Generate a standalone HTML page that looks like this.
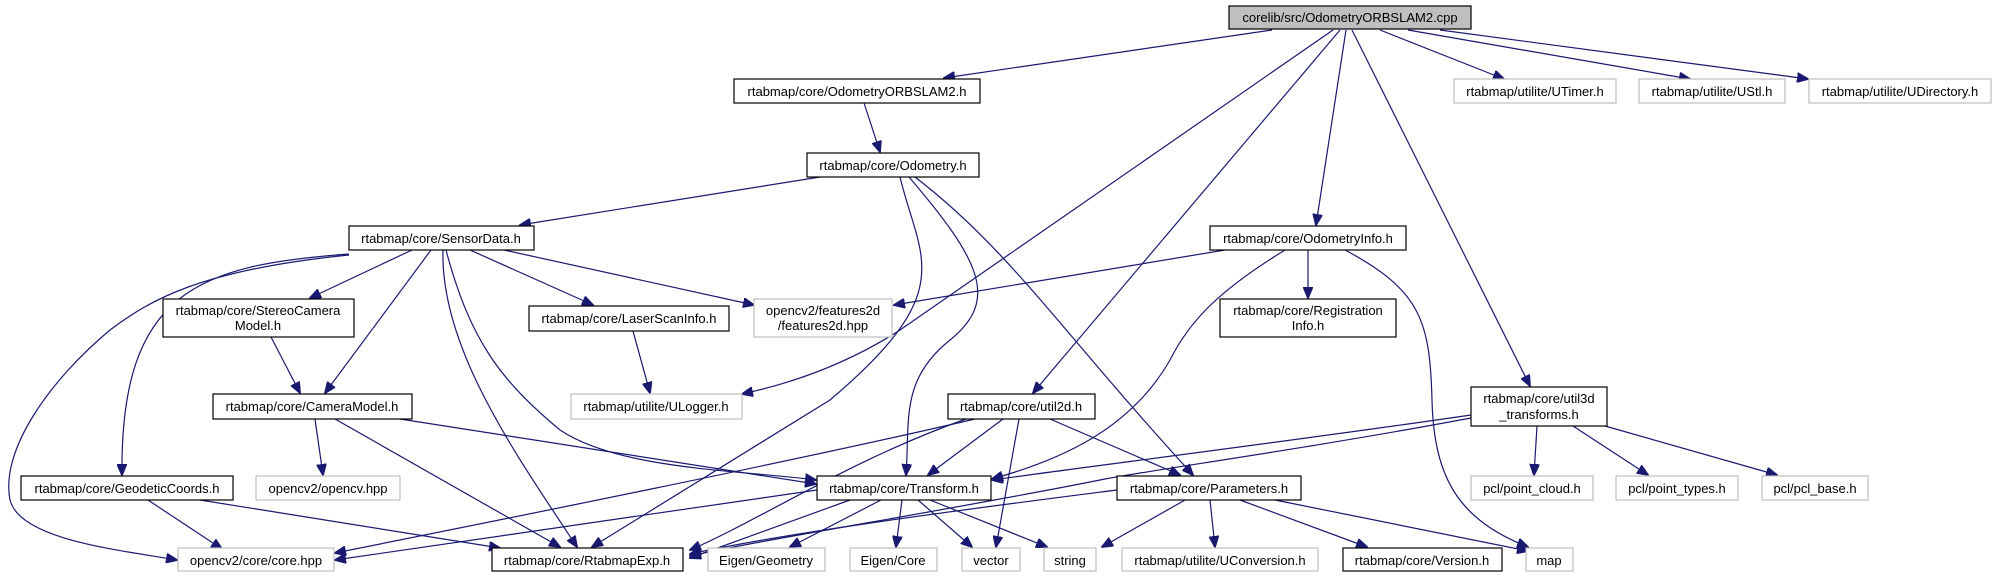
<!DOCTYPE html>
<html><head><meta charset="utf-8"><style>
html,body{margin:0;padding:0;background:#fff;}
svg{display:block}
text{font-family:"Liberation Sans",sans-serif;font-size:13px;fill:#000;text-anchor:middle}
.b{fill:#fff;stroke:#000;stroke-width:1.2}
.g{fill:#fff;stroke:#bfbfbf;stroke-width:1.2}
.e{fill:none;stroke:#191970;stroke-width:1.2}
</style></head><body>
<svg width="1997" height="576" viewBox="0 0 1997 576" xmlns="http://www.w3.org/2000/svg">
<defs><marker id="a" markerWidth="12" markerHeight="10" refX="11" refY="5" orient="auto" markerUnits="userSpaceOnUse"><path d="M0,0 L12,5 L0,10 z" fill="#191970" stroke="#191970"/></marker></defs>
<g marker-end="url(#a)">
<path class="e" d="M1272,30 L944,78"/>
<path class="e" d="M1380,30 L1504,79"/>
<path class="e" d="M1408,30 L1690,79"/>
<path class="e" d="M1440,30 L1808,79"/>
<path class="e" d="M1333,30 L900,330 Q830,375 742,394"/>
<path class="e" d="M1340,30 L1033,393"/>
<path class="e" d="M1346,30 L1316,225"/>
<path class="e" d="M1352,30 L1530,386"/>
<path class="e" d="M864,103 L880,152"/>
<path class="e" d="M820,177 L520,225"/>
<path class="e" d="M900,177 C920,260 960,290 830,400 L592,547"/>
<path class="e" d="M909,177 C980,260 1000,300 950,340 C900,380 910,420 906,475"/>
<path class="e" d="M915,177 C1010,250 1060,330 1193,475"/>
<path class="e" d="M412,250 L310,298"/>
<path class="e" d="M431,250 L325,393"/>
<path class="e" d="M349,254 C200,265 120,290 122,475"/>
<path class="e" d="M349,255 C200,270 150,300 110,330 C50,380 0,450 10,500 C20,540 120,550 177,560"/>
<path class="e" d="M443,250 C440,350 520,460 577,547"/>
<path class="e" d="M446,250 C470,340 500,380 560,430 C620,470 740,470 816,480"/>
<path class="e" d="M470,250 L593,305"/>
<path class="e" d="M504,250 L754,305"/>
<path class="e" d="M271,337 L300,393"/>
<path class="e" d="M633,331 L650,393"/>
<path class="e" d="M315,419 L323,475"/>
<path class="e" d="M335,419 L560,547"/>
<path class="e" d="M400,419 L816,484"/>
<path class="e" d="M148,500 L222,549"/>
<path class="e" d="M200,500 L500,548"/>
<path class="e" d="M1225,250 L894,305"/>
<path class="e" d="M1308,250 L1308,298"/>
<path class="e" d="M1285,250 C1220,290 1190,320 1170,360 C1130,430 1060,460 992,479"/>
<path class="e" d="M1345,250 C1420,290 1430,320 1432,400 C1434,480 1460,520 1528,547"/>
<path class="e" d="M975,419 C800,460 500,520 335,553"/>
<path class="e" d="M966,419 C850,460 760,520 690,550"/>
<path class="e" d="M1003,419 L928,475"/>
<path class="e" d="M1019,419 L996,547"/>
<path class="e" d="M1050,419 L1180,475"/>
<path class="e" d="M817,490 L335,560"/>
<path class="e" d="M850,500 L690,558"/>
<path class="e" d="M881,500 L790,547"/>
<path class="e" d="M902,500 L896,547"/>
<path class="e" d="M918,500 L972,547"/>
<path class="e" d="M930,500 L1047,547"/>
<path class="e" d="M1185,500 L1102,547"/>
<path class="e" d="M1210,500 L1215,547"/>
<path class="e" d="M1240,500 L1367,547"/>
<path class="e" d="M1275,500 L1528,551"/>
<path class="e" d="M1117,490 C1000,505 800,530 690,554"/>
<path class="e" d="M1471,415 C1300,440 1100,465 992,480"/>
<path class="e" d="M1471,418 C1300,450 1150,470 1100,480 C950,510 760,540 690,556"/>
<path class="e" d="M1537,426 L1534,475"/>
<path class="e" d="M1573,426 L1648,475"/>
<path class="e" d="M1605,426 L1777,475"/>
</g>
<rect x="1229" y="6" width="242" height="23" fill="#bfbfbf" stroke="#000" stroke-width="1.2"/><text x="1350" y="22">corelib/src/OdometryORBSLAM2.cpp</text>
<rect class="b" x="734" y="79" width="246" height="24"/><text x="857" y="96">rtabmap/core/OdometryORBSLAM2.h</text>
<rect class="g" x="1454" y="79" width="162" height="24"/><text x="1535" y="96">rtabmap/utilite/UTimer.h</text>
<rect class="g" x="1639" y="79" width="146" height="24"/><text x="1712" y="96">rtabmap/utilite/UStl.h</text>
<rect class="g" x="1809" y="79" width="182" height="24"/><text x="1900" y="96">rtabmap/utilite/UDirectory.h</text>
<rect class="b" x="807" y="153" width="172" height="24"/><text x="893" y="170">rtabmap/core/Odometry.h</text>
<rect class="b" x="349" y="226" width="185" height="24"/><text x="441" y="243">rtabmap/core/SensorData.h</text>
<rect class="b" x="1210" y="226" width="196" height="24"/><text x="1308" y="243">rtabmap/core/OdometryInfo.h</text>
<rect class="b" x="163" y="299" width="191" height="38"/><text x="258" y="315">rtabmap/core/StereoCamera</text><text x="258" y="330">Model.h</text>
<rect class="b" x="529" y="306" width="200" height="25"/><text x="629" y="323">rtabmap/core/LaserScanInfo.h</text>
<rect class="g" x="754" y="299" width="138" height="38"/><text x="823" y="315">opencv2/features2d</text><text x="823" y="330">/features2d.hpp</text>
<rect class="b" x="1220" y="299" width="176" height="38"/><text x="1308" y="315">rtabmap/core/Registration</text><text x="1308" y="330">Info.h</text>
<rect class="b" x="213" y="394" width="199" height="25"/><text x="312" y="411">rtabmap/core/CameraModel.h</text>
<rect class="g" x="571" y="394" width="171" height="25"/><text x="656" y="411">rtabmap/utilite/ULogger.h</text>
<rect class="b" x="948" y="394" width="147" height="25"/><text x="1021" y="411">rtabmap/core/util2d.h</text>
<rect class="b" x="1471" y="387" width="136" height="39"/><text x="1539" y="403">rtabmap/core/util3d</text><text x="1539" y="419">_transforms.h</text>
<rect class="b" x="21" y="476" width="212" height="24"/><text x="127" y="493">rtabmap/core/GeodeticCoords.h</text>
<rect class="g" x="256" y="476" width="144" height="24"/><text x="328" y="493">opencv2/opencv.hpp</text>
<rect class="b" x="817" y="476" width="174" height="24"/><text x="904" y="493">rtabmap/core/Transform.h</text>
<rect class="b" x="1117" y="476" width="184" height="24"/><text x="1209" y="493">rtabmap/core/Parameters.h</text>
<rect class="g" x="1471" y="476" width="122" height="24"/><text x="1532" y="493">pcl/point_cloud.h</text>
<rect class="g" x="1616" y="476" width="122" height="24"/><text x="1677" y="493">pcl/point_types.h</text>
<rect class="g" x="1762" y="476" width="106" height="24"/><text x="1815" y="493">pcl/pcl_base.h</text>
<rect class="g" x="178" y="548" width="156" height="23"/><text x="256" y="565">opencv2/core/core.hpp</text>
<rect class="b" x="492" y="548" width="191" height="23"/><text x="587" y="565">rtabmap/core/RtabmapExp.h</text>
<rect class="g" x="708" y="548" width="117" height="23"/><text x="766" y="565">Eigen/Geometry</text>
<rect class="g" x="850" y="548" width="87" height="23"/><text x="893" y="565">Eigen/Core</text>
<rect class="g" x="962" y="548" width="58" height="23"/><text x="991" y="565">vector</text>
<rect class="g" x="1044" y="548" width="52" height="23"/><text x="1070" y="565">string</text>
<rect class="g" x="1122" y="548" width="196" height="23"/><text x="1220" y="565">rtabmap/utilite/UConversion.h</text>
<rect class="b" x="1343" y="548" width="159" height="23"/><text x="1422" y="565">rtabmap/core/Version.h</text>
<rect class="g" x="1526" y="548" width="47" height="23"/><text x="1549" y="565">map</text>
</svg>
</body></html>
